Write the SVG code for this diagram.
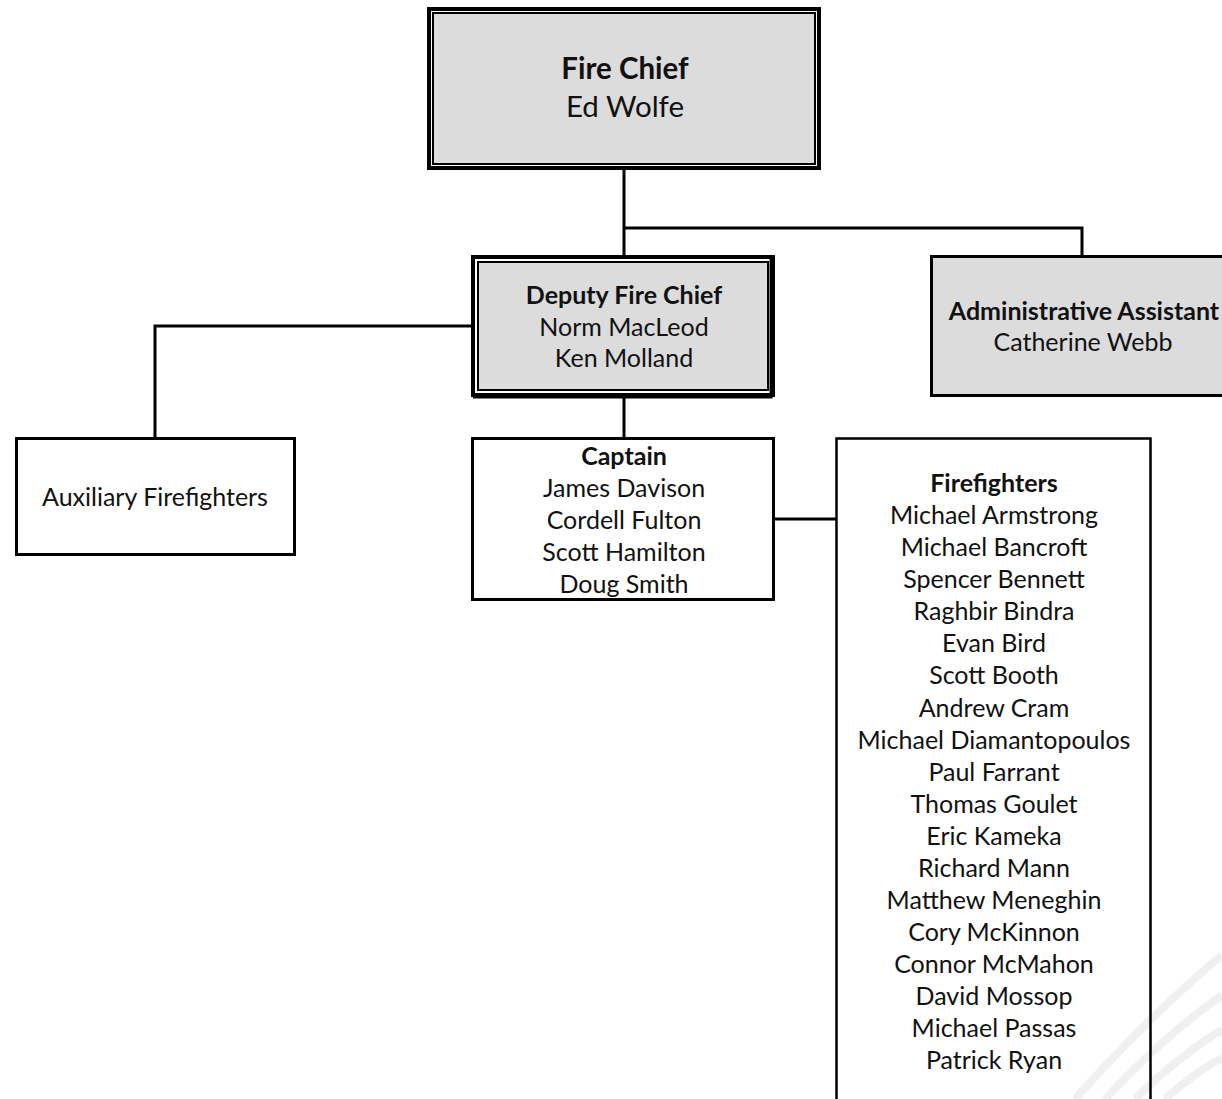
<svg xmlns="http://www.w3.org/2000/svg" width="1222" height="1099" viewBox="0 0 1222 1099">
<style>
.t{font-family:Lato,"Open Sans","Liberation Sans",sans-serif;font-size:25px;fill:#111;text-anchor:middle}
.b{font-weight:bold}
.big{font-size:29.5px}
.gray{fill:#dcdcdc}
.box{fill:#fff;stroke:#000;stroke-width:3}
.conn{fill:none;stroke:#000;stroke-width:3}
.wm{fill:none;stroke:#f0f0f0;stroke-width:8}
</style>
<rect width="1222" height="1099" fill="#fff"/>
<g id="watermark">
<path class="wm" d="M1075 1099 Q1150 1015 1222 955"/>
<path class="wm" d="M1105 1099 Q1165 1035 1222 995"/>
<path class="wm" d="M1135 1099 Q1180 1055 1222 1030"/>
<path class="wm" d="M1165 1099 Q1195 1072 1222 1058"/>
</g>
<g id="connectors">
<path class="conn" d="M624 169 V255"/>
<path class="conn" d="M624 228 H1082 V255"/>
<path class="conn" d="M471 326 H155 V438"/>
<path class="conn" d="M624 397 V438"/>
<path class="conn" d="M774 519 H836"/>
</g>
<g id="fire-chief">
<rect x="429" y="9" width="390" height="159" fill="#fff" stroke="#000" stroke-width="4"/>
<rect x="433" y="13" width="382" height="151" class="gray" stroke="#000" stroke-width="2"/>
<text class="t b big" x="625" y="79">Fire Chief</text>
<text class="t big" x="625" y="117">Ed Wolfe</text>
</g>
<g id="deputy-fire-chief">
<rect x="473" y="257" width="300" height="138" fill="#fff" stroke="#000" stroke-width="4"/>
<rect x="478" y="262" width="290" height="128" class="gray" stroke="#000" stroke-width="2"/>
<path d="M771 257 V397 H473" fill="none" stroke="#000" stroke-width="3"/>
<text class="t b" x="624" y="304">Deputy Fire Chief</text>
<text class="t" x="624" y="336">Norm MacLeod</text>
<text class="t" x="624" y="367">Ken Molland</text>
</g>
<g id="administrative-assistant">
<rect x="931.5" y="256.5" width="300" height="139" class="gray" stroke="#000" stroke-width="3"/>
<text class="t b" x="1084" y="320">Administrative Assistant</text>
<text class="t" x="1083" y="351">Catherine Webb</text>
</g>
<g id="auxiliary-firefighters">
<rect x="16.5" y="438.5" width="278" height="116" class="box"/>
<text class="t" x="155" y="506">Auxiliary Firefighters</text>
</g>
<g id="captain">
<rect x="472.5" y="438.5" width="301" height="161" class="box"/>
<text class="t b" x="624" y="465">Captain</text>
<text class="t" x="624" y="497">James Davison</text>
<text class="t" x="624" y="529">Cordell Fulton</text>
<text class="t" x="624" y="561">Scott Hamilton</text>
<text class="t" x="624" y="593">Doug Smith</text>
</g>
<g id="firefighters">
<rect x="836.5" y="438.5" width="314" height="680" fill="none" stroke="#000" stroke-width="2.5"/>
<text class="t b" x="994" y="492">Firefighters</text>
<text class="t" x="994" y="524">Michael Armstrong</text>
<text class="t" x="994" y="556">Michael Bancroft</text>
<text class="t" x="994" y="588">Spencer Bennett</text>
<text class="t" x="994" y="620">Raghbir Bindra</text>
<text class="t" x="994" y="652">Evan Bird</text>
<text class="t" x="994" y="684">Scott Booth</text>
<text class="t" x="994" y="717">Andrew Cram</text>
<text class="t" x="994" y="749">Michael Diamantopoulos</text>
<text class="t" x="994" y="781">Paul Farrant</text>
<text class="t" x="994" y="813">Thomas Goulet</text>
<text class="t" x="994" y="845">Eric Kameka</text>
<text class="t" x="994" y="877">Richard Mann</text>
<text class="t" x="994" y="909">Matthew Meneghin</text>
<text class="t" x="994" y="941">Cory McKinnon</text>
<text class="t" x="994" y="973">Connor McMahon</text>
<text class="t" x="994" y="1005">David Mossop</text>
<text class="t" x="994" y="1037">Michael Passas</text>
<text class="t" x="994" y="1069">Patrick Ryan</text>
</g>
</svg>
